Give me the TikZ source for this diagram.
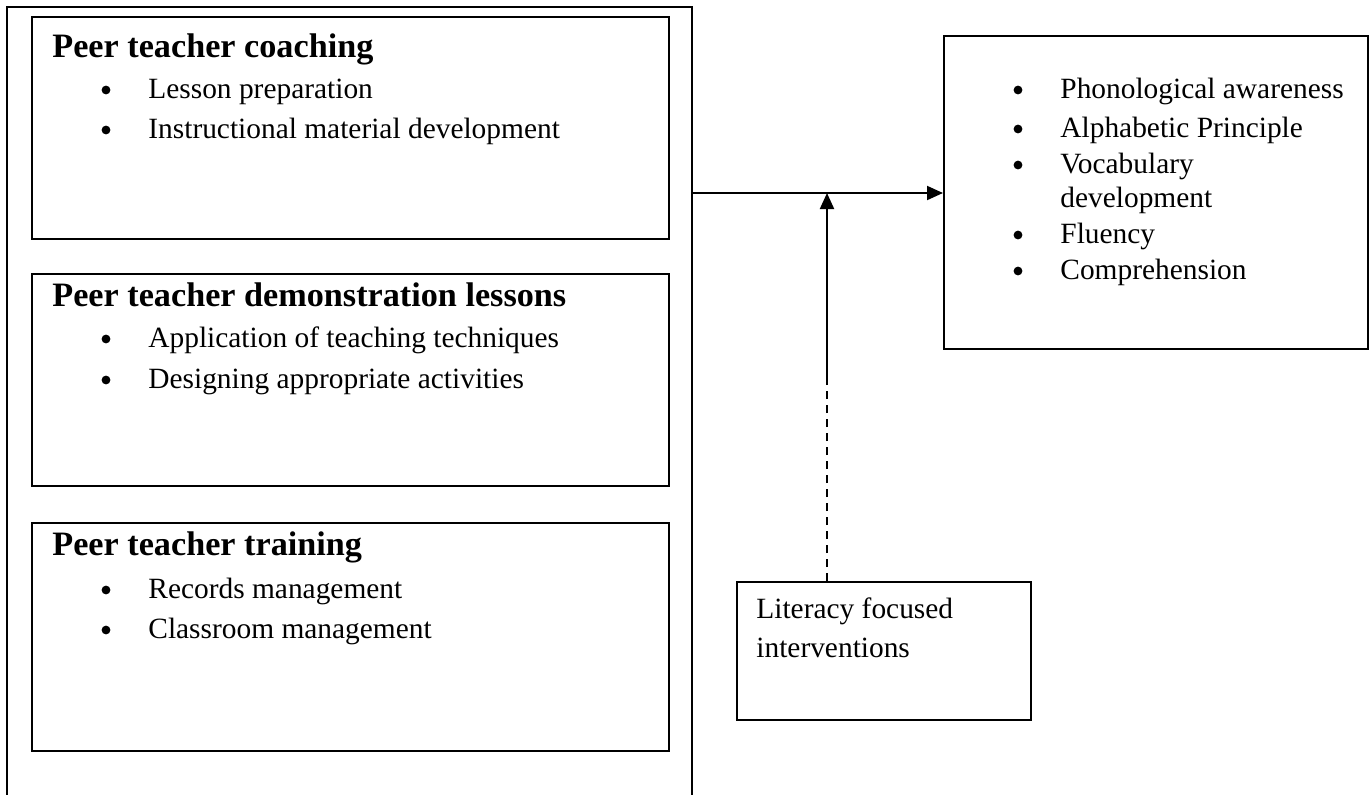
\documentclass[tikz,border=0pt]{standalone}
\usepackage{fontspec}
\setmainfont{Liberation Serif}
\usetikzlibrary{arrows.meta}
\begin{document}
\begin{tikzpicture}[x=0.5pt,y=-0.5pt,
  box/.style={draw, line width=1pt, rectangle, inner sep=0pt, anchor=north west},
  frame/.style={rectangle, inner sep=0pt, anchor=north west},
  head/.style={anchor=base west, inner sep=0pt, font=\fontsize{17.1}{20}\selectfont\bfseries},
  item/.style={anchor=base west, inner sep=0pt, font=\fontsize{14.7}{18}\selectfont},
  dot/.style={circle, fill, inner sep=0pt, minimum size=4.4pt},
  arr/.style={line width=1pt, -{Triangle[length=8pt,width=7pt]}},
  dashline/.style={line width=0.9pt, dash pattern=on 4pt off 3pt}]

\useasboundingbox (0,0) rectangle (1372,794);

% outer frame, open at the bottom
\node[frame, minimum width=342pt, minimum height=393.5pt] (outer) at (7,7) {};
\draw[line width=1pt] (outer.south west) -- (outer.north west) -- (outer.north east) -- (outer.south east);

% left column of boxes
\node[box, minimum width=318.5pt, minimum height=111pt] (b1) at (31,16) {};
\node[box, minimum width=318.5pt, minimum height=106pt] (b2) at (31,273) {};
\node[box, minimum width=318.5pt, minimum height=114pt] (b3) at (31,522) {};

\node[head] (h1) at (52,57) {Peer teacher coaching};
\node[dot] (d11) at (106,90) {};
\node[item] (t11) at (148,98) {Lesson preparation};
\node[dot] (d12) at (106,130) {};
\node[item] (t12) at (148,138) {Instructional material development};

\node[head] (h2) at (52,306) {Peer teacher demonstration lessons};
\node[dot] (d21) at (106,339) {};
\node[item] (t21) at (148,347) {Application of teaching techniques};
\node[dot] (d22) at (106,380) {};
\node[item] (t22) at (148,388) {Designing appropriate activities};

\node[head] (h3) at (52,555) {Peer teacher training};
\node[dot] (d31) at (106,590) {};
\node[item] (t31) at (148,598) {Records management};
\node[dot] (d32) at (106,630) {};
\node[item] (t32) at (148,638) {Classroom management};

% outcomes box
\node[box, minimum width=212pt, minimum height=156.5pt] (rb) at (943,35) {};
\node[dot] (r1) at (1018,90) {};
\node[item] (s1) at (1060,98) {Phonological awareness};
\node[dot] (r2) at (1018,129) {};
\node[item] (s2) at (1060,137) {Alphabetic Principle};
\node[dot] (r3) at (1018,165) {};
\node[item] (s3) at (1060,173) {Vocabulary};
\node[item] (s3b) at (1060,207) {development};
\node[dot] (r4) at (1018,235) {};
\node[item] (s4) at (1060,243) {Fluency};
\node[dot] (r5) at (1018,271) {};
\node[item] (s5) at (1060,279) {Comprehension};

% interventions box
\node[box, minimum width=147pt, minimum height=69pt] (lit) at (736,581) {};
\node[item] (l1) at (756,618) {Literacy focused};
\node[item] (l2) at (756,657) {interventions};

% connectors
\coordinate (j) at (827,193);
\coordinate (m) at (827,378);
\draw[arr] (outer.east |- j) -- (rb.west |- j);
\draw[dashline] (m |- lit.north) -- (m);
\draw[arr] (m) -- (j);
\end{tikzpicture}
\end{document}
